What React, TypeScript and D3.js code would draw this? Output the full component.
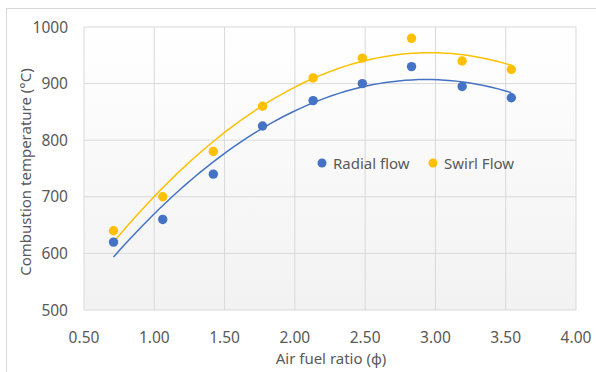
import React from 'react';
import * as d3 from 'd3';

// values
const ratios = [0.71, 1.06, 1.42, 1.77, 2.13, 2.48, 2.83, 3.19, 3.54];
const radialTemps = [620, 660, 740, 825, 870, 900, 930, 895, 875];
const swirlTemps = [640, 700, 780, 860, 910, 945, 980, 940, 925];
const xTicks = [0.5, 1.0, 1.5, 2.0, 2.5, 3.0, 3.5, 4.0];
const yTicks = [500, 600, 700, 800, 900, 1000];

const series = [
  { name: 'Radial flow', values: radialTemps, color: '#4472C4' },
  { name: 'Swirl Flow', values: swirlTemps, color: '#FFC000' },
];

// least squares 2nd order polynomial, like the Excel trendline
function polyFit(xs: number[], ys: number[]) {
  const s = (f: (x: number, y: number) => number) => d3.sum(xs, (x, i) => f(x, ys[i]));
  const n = xs.length;
  const sx = s(x => x), sx2 = s(x => x * x), sx3 = s(x => x ** 3), sx4 = s(x => x ** 4);
  const sy = s((x, y) => y), sxy = s((x, y) => x * y), sx2y = s((x, y) => x * x * y);
  // solve [[n,sx,sx2],[sx,sx2,sx3],[sx2,sx3,sx4]] * [c,b,a] = [sy,sxy,sx2y]
  const m = [
    [n, sx, sx2, sy],
    [sx, sx2, sx3, sxy],
    [sx2, sx3, sx4, sx2y],
  ];
  for (let i = 0; i < 3; i++) {
    for (let k = i + 1; k < 3; k++) {
      const f = m[k][i] / m[i][i];
      for (let j = i; j < 4; j++) m[k][j] -= f * m[i][j];
    }
  }
  const r = [0, 0, 0];
  for (let i = 2; i >= 0; i--) {
    let v = m[i][3];
    for (let j = i + 1; j < 3; j++) v -= m[i][j] * r[j];
    r[i] = v / m[i][i];
  }
  return (x: number) => r[0] + r[1] * x + r[2] * x * x;
}

const W = 596;
const H = 372;
const plot = { left: 84, top: 27, right: 576, bottom: 310 };
const font = "'Noto Sans', sans-serif";
const textColor = '#595959';

const App: React.FC = () => {
  const x = d3.scaleLinear().domain([0.5, 4]).range([plot.left, plot.right]);
  const y = d3.scaleLinear().domain([500, 1000]).range([plot.bottom, plot.top]);

  const line = d3.line<[number, number]>()
    .x(d => x(d[0]))
    .y(d => y(d[1]));

  const xMin = d3.min(ratios) as number;
  const xMax = d3.max(ratios) as number;

  return (
    <svg width={W} height={H} style={{ position: 'absolute', left: 0, top: 0 }}>
      <defs>
        <linearGradient id="plotBg" x1="0" y1="0" x2="0" y2="1">
          <stop offset="0" stopColor="#ffffff" />
          <stop offset="1" stopColor="#f2f2f2" />
        </linearGradient>
      </defs>
      <rect x={0} y={0} width={W} height={H} fill="#ffffff" />
      <rect x={6.5} y={8.5} width={W} height={H} fill="none" stroke="#d9d9d9" />
      <rect
        x={plot.left}
        y={plot.top}
        width={plot.right - plot.left}
        height={plot.bottom - plot.top}
        fill="url(#plotBg)"
      />

      {/* grid */}
      {xTicks.map(t => (
        <line key={'gx' + t} x1={x(t)} x2={x(t)} y1={plot.top} y2={plot.bottom} stroke="#d9d9d9" strokeWidth={1} />
      ))}
      {yTicks.map(t => (
        <line key={'gy' + t} x1={plot.left} x2={plot.right} y1={y(t)} y2={y(t)} stroke="#d9d9d9" strokeWidth={1} />
      ))}

      {/* tick labels */}
      {xTicks.map(t => (
        <text key={'tx' + t} x={x(t)} y={343} textAnchor="middle" fontFamily={font} fontSize={15.5} fill={textColor}>
          {d3.format('.2f')(t)}
        </text>
      ))}
      {yTicks.map(t => (
        <text key={'ty' + t} x={68} y={y(t) + 5.5} textAnchor="end" fontFamily={font} fontSize={15.5} fill={textColor}>
          {t}
        </text>
      ))}

      {/* axis titles */}
      <text x={331} y={364} textAnchor="middle" fontFamily={font} fontSize={15} fill={textColor}>
        Air fuel ratio (ϕ)
      </text>
      <text
        transform={`translate(31, 172) rotate(-90)`}
        textAnchor="middle"
        fontFamily={font}
        fontSize={15}
        fill={textColor}
      >
        Combustion temperature (°C)
      </text>

      {/* trendlines */}
      {series.map(s => {
        const f = polyFit(ratios, s.values);
        const pts: [number, number][] = d3.range(0, 61).map(i => {
          const xv = xMin + ((xMax - xMin) * i) / 60;
          return [xv, f(xv)];
        });
        return <path key={'t' + s.name} d={line(pts) || ''} fill="none" stroke={s.color} strokeWidth={1.5} />;
      })}

      {/* points */}
      {series.map(s =>
        s.values.map((v, i) => (
          <circle key={s.name + i} cx={x(ratios[i])} cy={y(v)} r={4.7} fill={s.color} />
        ))
      )}

      {/* legend */}
      {series.map((s, i) => (
        <g key={'lg' + s.name} transform={`translate(${322 + i * 111}, 163)`}>
          <circle cx={0} cy={0} r={4.5} fill={s.color} />
          <text x={11} y={5.5} fontFamily={font} fontSize={15} fill={textColor}>
            {s.name}
          </text>
        </g>
      ))}
    </svg>
  );
};

export default App;
